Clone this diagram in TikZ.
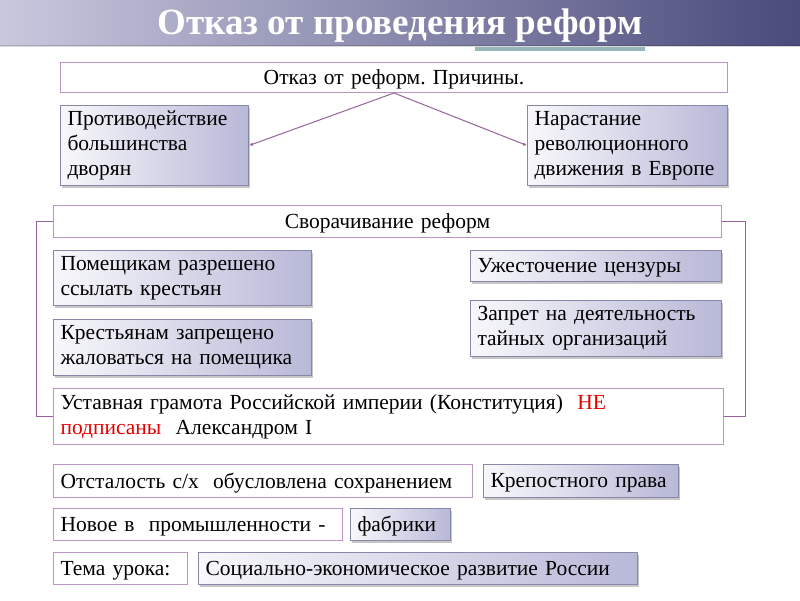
\documentclass[tikz,border=0pt]{standalone}
\usepackage{fontspec}
\setmainfont{Liberation Serif}
\usetikzlibrary{arrows.meta,shadows}

\definecolor{bannerlight}{RGB}{200,200,222}
\definecolor{bannerdark}{RGB}{74,74,124}
\definecolor{stripteal}{RGB}{150,182,184}
\definecolor{frameviolet}{RGB}{185,150,195}
\definecolor{boxedge}{RGB}{135,135,170}
\definecolor{boxlav}{RGB}{184,184,216}
\definecolor{linkviolet}{RGB}{150,100,155}
\definecolor{notred}{RGB}{230,0,0}

\tikzset{
  plainbox/.style={draw=frameviolet, line width=1pt, fill=white, anchor=north west,
    inner xsep=7pt, inner ysep=0pt, align=left,
    font=\fontsize{21.5}{25}\selectfont},
  shadebox/.style={draw=boxedge, line width=1pt, left color=white!90!boxlav, right color=boxlav,
    anchor=north west, inner xsep=7pt, inner ysep=0pt, align=left,
    font=\fontsize{21.5}{25}\selectfont,
    drop shadow={shadow xshift=1.5pt, shadow yshift=-2pt, opacity=0.22, fill=black}},
  oneline/.style={text depth=1pt},
  link/.style={draw=linkviolet, line width=1pt},
}

\begin{document}
\frenchspacing
\begin{tikzpicture}[x=1pt, y=-1pt]
\useasboundingbox (0,0) rectangle (800,600);
\fill[white] (0,0) rectangle (800,600);
% banner
\shade[left color=bannerlight, right color=bannerdark] (0,0) rectangle (800,45);
\fill[black, opacity=0.15] (0,45) rectangle (800,47);
\fill[stripteal] (475,47) rectangle (645,51);
\node[font=\fontsize{37}{37}\selectfont\bfseries, text=white] (title) at (400,26) {Отказ от проведения реформ};

% causes
\node[plainbox, oneline, text width=653pt, minimum height=30pt, align=center] (prich) at (60,62) {Отказ от реформ. Причины.};
\node[shadebox, text width=174pt, minimum height=80pt] (protiv) at (60,105) {Противодействие\\большинства\\дворян};
\node[shadebox, text width=186pt, minimum height=80pt] (narast) at (527,105) {Нарастание\\революционного\\движения в Европе};
\draw[link, -{Latex[length=4pt,width=3.5pt]}] (prich.south) -- (protiv.east);
\draw[link, -{Latex[length=4pt,width=3.5pt]}] (prich.south) -- (narast.west);

% rollback
\node[plainbox, oneline, text width=654pt, minimum height=32pt, align=center] (svor) at (53,205) {Сворачивание реформ};
\node[shadebox, text width=244pt, minimum height=55pt] (pomesh) at (53,250) {Помещикам разрешено\\ссылать крестьян};
\node[shadebox, text width=244pt, minimum height=56pt] (krest) at (53,319) {Крестьянам запрещено\\жаловаться на помещика};
\node[shadebox, oneline, text width=237pt, minimum height=31pt] (cenz) at (470,250) {Ужесточение цензуры};
\node[shadebox, text width=237pt, minimum height=56pt] (zapret) at (470,300) {Запрет на деятельность\\тайных организаций};
\node[plainbox, text width=656pt, minimum height=56pt] (ustav) at (53,388) {Уставная грамота Российской империи (Конституция)\ \ \textcolor{notred}{НЕ}\\\textcolor{notred}{подписаны}\ \ Александром I};
\draw[link] (svor.west) -- ++(-17,0) |- (ustav.west);
\draw[link] (svor.east) -- ++(23,0) |- (ustav.east);

% bottom rows
\node[plainbox, oneline, text width=405pt, minimum height=33pt] (otstal) at (53,464) {Отсталость с/х\ \ обусловлена сохранением};
\node[shadebox, oneline, text width=181pt, minimum height=33pt] (krepost) at (483,464) {Крепостного права};
\node[plainbox, oneline, text width=275pt, minimum height=32pt] (novoe) at (53,508) {Новое в\ \ промышленности -};
\node[shadebox, oneline, text width=86pt, minimum height=32pt] (fabr) at (350,508) {фабрики};
\node[plainbox, oneline, text width=120pt, minimum height=32pt] (tema) at (53,552) {Тема урока:};
\node[shadebox, oneline, text width=425pt, minimum height=32pt] (socek) at (198,552) {Социально-экономическое развитие России};
\end{tikzpicture}
\end{document}
